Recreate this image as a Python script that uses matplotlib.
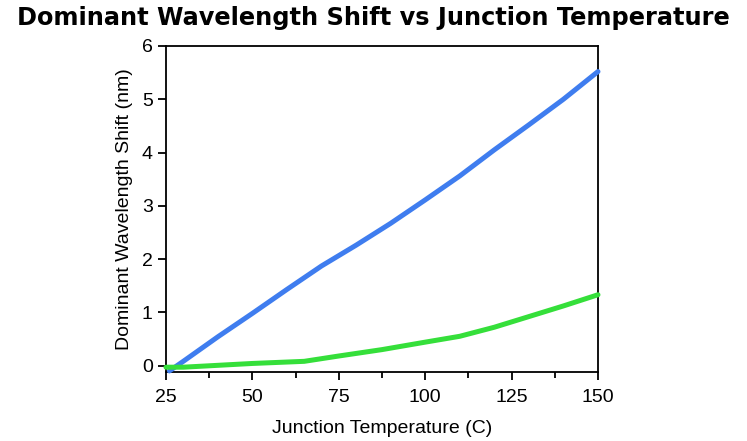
import numpy as np
import matplotlib.pyplot as plt
from matplotlib.ticker import MultipleLocator

plt.rcParams['font.family'] = ['Liberation Sans', 'DejaVu Sans']

# temperature (C) and shift (nm)
temp_blue = [26, 30, 40, 50, 60, 70, 80, 90, 100, 110, 120, 130, 140, 150]
shift_blue = [-0.1, 0.08, 0.54, 0.98, 1.43, 1.87, 2.26, 2.67, 3.11, 3.56, 4.05, 4.52, 5.0, 5.52]

temp_green = [25, 30, 50, 65, 75, 87.5, 100, 110, 120, 130, 140, 150]
shift_green = [-0.03, -0.03, 0.04, 0.08, 0.18, 0.3, 0.44, 0.55, 0.72, 0.92, 1.12, 1.33]

fig = plt.figure(figsize=(7.47, 4.41), dpi=100)
ax = fig.add_axes([0.2222, 0.1565, 0.5783, 0.7392])

ax.plot(temp_blue, shift_blue, color='#3f7def', lw=3.6, solid_capstyle='round', solid_joinstyle='round', clip_on=False, zorder=3)
ax.plot(temp_green, shift_green, color='#35df3a', lw=3.6, solid_capstyle='round', solid_joinstyle='round', clip_on=False, zorder=3)

ax.set_xlim(25, 150)
ax.set_ylim(-0.12, 6)
ax.xaxis.set_major_locator(MultipleLocator(25))
ax.xaxis.set_minor_locator(MultipleLocator(12.5))
ax.yaxis.set_major_locator(MultipleLocator(1))

for s in ax.spines.values():
    s.set_linewidth(1.3)
ax.tick_params(which='major', direction='out', length=6, width=1.3, labelsize=14, colors='black')
ax.tick_params(axis='x', which='major', pad=6)
ax.tick_params(which='minor', direction='out', length=4, width=1.3)

ax.set_xlabel('Junction Temperature (C)', fontsize=14, labelpad=10)
ax.set_ylabel('Dominant Wavelength Shift (nm)', fontsize=14, labelpad=6)
fig.text(0.5, 0.96, 'Dominant Wavelength Shift vs Junction Temperature',
         ha='center', va='center', fontsize=17.3, fontweight='bold', family='DejaVu Sans')

fig.savefig('out.png', dpi=100)
